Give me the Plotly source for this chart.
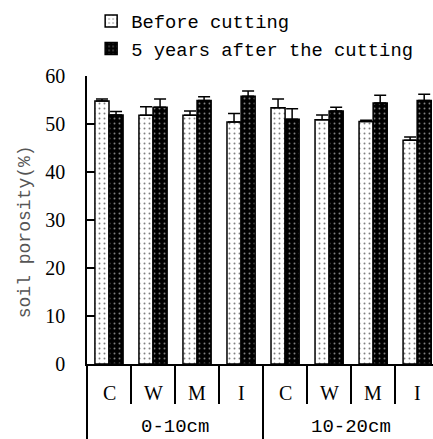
import plotly.graph_objects as go

categories = ["C", "W", "M", "I", "C", "W", "M", "I"]
groups = ["0-10cm", "10-20cm"]
before = [54.8, 51.8, 51.8, 50.4, 53.4, 50.9, 50.5, 46.6]
before_err = [0.4, 1.8, 0.9, 1.8, 1.8, 1.0, 0.3, 0.7]
after = [51.9, 53.5, 54.9, 55.8, 51.0, 52.7, 54.4, 54.9]
after_err = [0.7, 1.7, 0.8, 1.1, 2.2, 0.8, 1.6, 1.3]
series_names = ["Before cutting", "5 years after the cutting"]

x = list(range(len(categories)))

fig = go.Figure()
fig.add_trace(go.Bar(
    x=x, y=before, name=series_names[0],
    marker=dict(color="white", line=dict(color="black", width=1.5),
                pattern=dict(shape=".", bgcolor="white", fgcolor="black", size=5, solidity=0.12)),
    error_y=dict(type="data", array=before_err, arrayminus=[0]*8, symmetric=False,
                 color="black", thickness=1.5, width=6),
))
fig.add_trace(go.Bar(
    x=x, y=after, name=series_names[1],
    marker=dict(color="black", line=dict(color="black", width=1.5),
                pattern=dict(shape=".", bgcolor="black", fgcolor="white", size=5, solidity=0.12)),
    error_y=dict(type="data", array=after_err, arrayminus=[0]*8, symmetric=False,
                 color="black", thickness=1.5, width=6),
))

annotations = []
for i, c in enumerate(categories):
    annotations.append(dict(x=i, y=0, xref="x", yref="paper", text=c, showarrow=False,
                            yanchor="middle", yshift=-29,
                            font=dict(family="Liberation Serif", size=20, color="black")))
for gi, g in enumerate(groups):
    annotations.append(dict(x=gi * 4 + 1.5, y=0, xref="x", yref="paper", text=g, showarrow=False,
                            yanchor="middle", yshift=-63,
                            font=dict(family="Liberation Mono", size=19, color="black")))
annotations.append(dict(x=-0.18, y=0.46, xref="paper", yref="paper", text="soil porosity(%)",
                        showarrow=False, textangle=-90, xanchor="center", yanchor="middle",
                        font=dict(family="Liberation Mono", size=18, color="#555555")))

fig.update_layout(
    width=433, height=439,
    margin=dict(l=87, r=0, t=76, b=75, autoexpand=False),
    paper_bgcolor="white", plot_bgcolor="white",
    barmode="group", bargap=0.36, bargroupgap=0,
    showlegend=True,
    legend=dict(x=0.012, y=1.256, xanchor="left", yanchor="top",
                font=dict(family="Liberation Mono", size=18.8, color="black"),
                bgcolor="rgba(0,0,0,0)", tracegroupgap=0, itemwidth=30),
    xaxis=dict(range=[-0.5, 7.36], showline=True, linecolor="black", linewidth=1.5,
               automargin=False,
               tickmode="array", tickvals=[-0.5, 3.5], ticks="outside", ticklen=75,
               tickwidth=1.5, tickcolor="black", showticklabels=False, showgrid=False,
               zeroline=False,
               minor=dict(tickmode="array", tickvals=[0.5, 1.5, 2.5, 4.5, 5.5, 6.5],
                          ticks="outside", ticklen=38, tickwidth=1.5, tickcolor="black",
                          showgrid=False)),
    yaxis=dict(range=[0, 60], tickvals=[0, 10, 20, 30, 40, 50, 60], ticks="inside",
               automargin=False,
               ticklen=8, tickwidth=1.5, tickcolor="black", showline=True,
               linecolor="black", linewidth=1.5, showgrid=False, zeroline=False,
               ticklabelstandoff=16,
               tickfont=dict(family="Liberation Serif", size=20, color="black")),
    annotations=annotations,
)

fig.write_html("out.html", config={"displayModeBar": False},
               post_script="document.body.style.margin='0';document.body.style.overflow='hidden';")
